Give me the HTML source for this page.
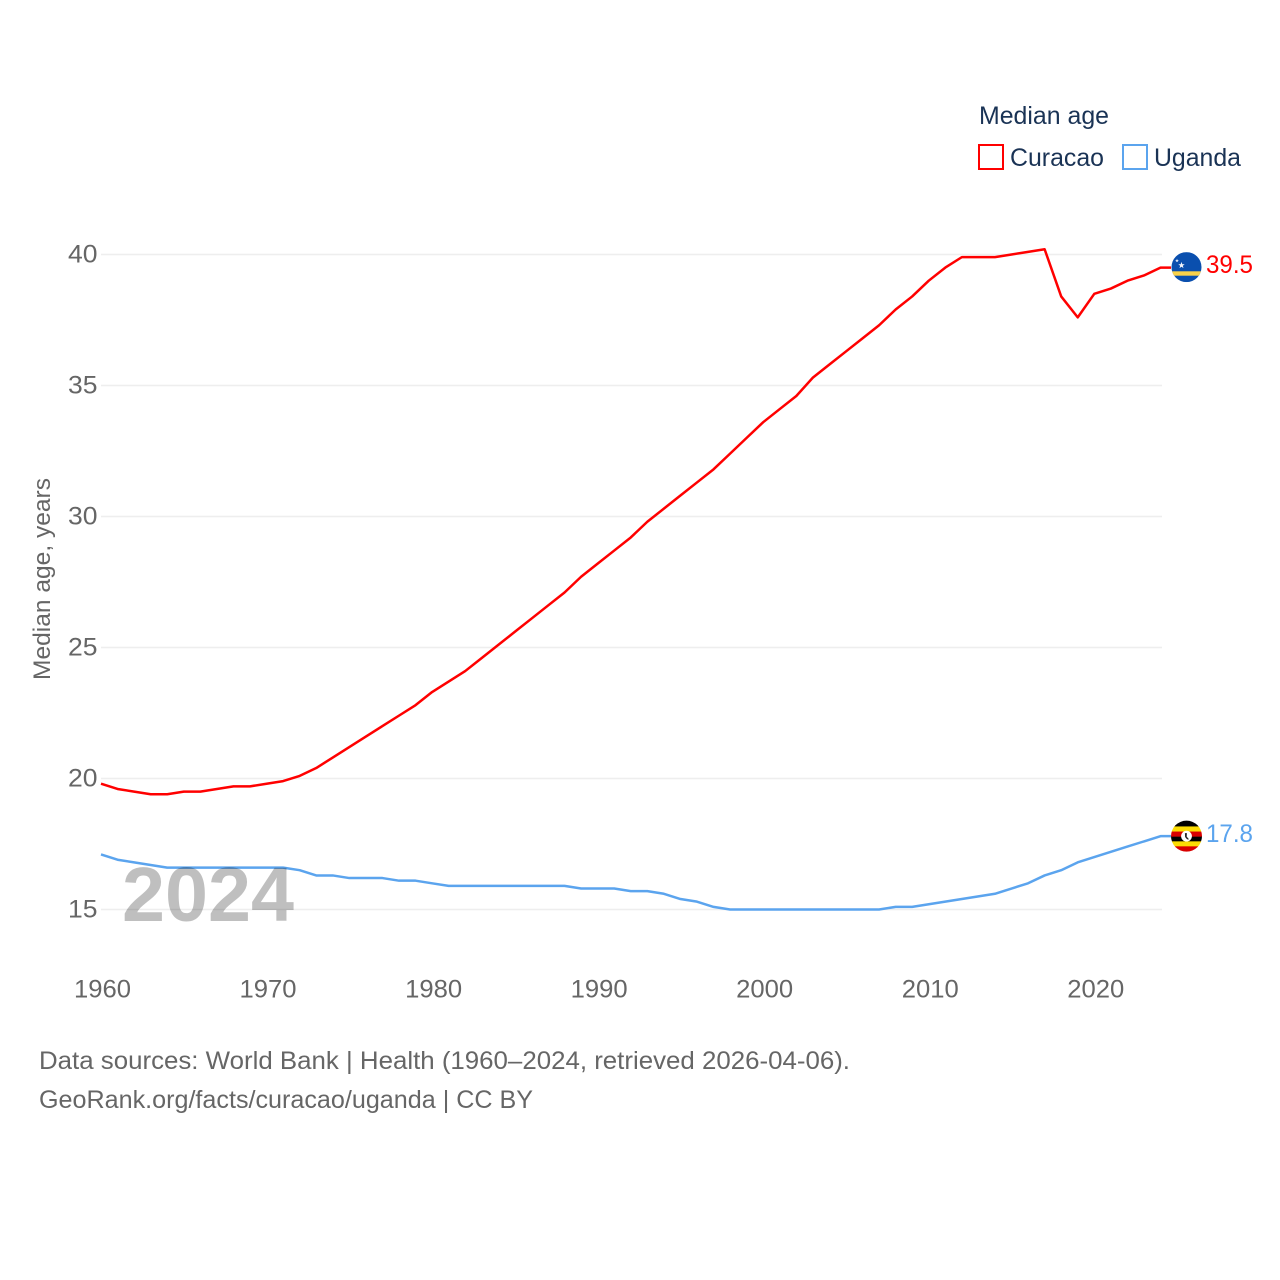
<!DOCTYPE html>
<html lang="en">
<head>
<meta charset="utf-8">
<title>Median age: Curacao and Uganda</title>
<style>
  html, body { margin: 0; padding: 0; background: #fff; }
  body { width: 1280px; height: 1280px; overflow: hidden; }
  svg { display: block; }
  text { font-family: "Liberation Sans", sans-serif; }
</style>
</head>
<body>
<svg id="chart" xmlns="http://www.w3.org/2000/svg" width="1280" height="1280" viewBox="0 0 1280 1280">
  <rect width="1280" height="1280" fill="#ffffff"/>
  <g id="grid"></g>
  <g id="y-ticks"></g>
  <g id="x-ticks"></g>
  <text transform="translate(50,579) rotate(-90)" text-anchor="middle" font-size="24" fill="#666666" textLength="202" lengthAdjust="spacingAndGlyphs">Median age, years</text>

  <g id="series"></g>
  <text x="122" y="921" font-size="77" font-weight="700" fill="#000000" fill-opacity="0.25" textLength="172" lengthAdjust="spacingAndGlyphs">2024</text>

  <g id="flag-curacao">
    <clipPath id="clip-cw"><circle cx="0" cy="0" r="15"/></clipPath>
    <g clip-path="url(#clip-cw)">
      <rect x="-15" y="-15" width="30" height="30" fill="#0a4fae"/>
      <rect x="-15" y="4.2" width="30" height="4.4" fill="#f9d24a"/>
      <polygon points="-5,-5.2 -4.2,-2.9 -1.8,-2.9 -3.7,-1.4 -3,1 -5,-0.4 -7,1 -6.3,-1.4 -8.2,-2.9 -5.8,-2.9" fill="#f4f6fb"/>
      <polygon points="-9.5,-8.4 -9,-7.1 -7.6,-7.1 -8.7,-6.2 -8.3,-4.9 -9.5,-5.7 -10.7,-4.9 -10.3,-6.2 -11.4,-7.1 -10,-7.1" fill="#dfe6f4"/>
    </g>
  </g>
  <g id="flag-uganda">
    <clipPath id="clip-ug"><circle cx="0" cy="0" r="15.5"/></clipPath>
    <g clip-path="url(#clip-ug)">
      <rect x="-16" y="-16" width="32" height="6.5" fill="#000000"/>
      <rect x="-16" y="-9.7" width="32" height="5.4" fill="#fcdc04"/>
      <rect x="-16" y="-4.6" width="32" height="5.4" fill="#d90000"/>
      <rect x="-16" y="0.5" width="32" height="5" fill="#000000"/>
      <rect x="-16" y="5.2" width="32" height="5.2" fill="#fcdc04"/>
      <rect x="-16" y="10.2" width="32" height="6" fill="#d90000"/>
      <circle cx="0" cy="0" r="5.4" fill="#ffffff"/>
      <path d="M-1.6,-3 L0.4,-3 L0.2,0.5 L2.6,3.2 L0.6,3.2 L-1.4,0.8 Z" fill="#222222"/>
    </g>
  </g>
  <g id="end-labels"></g>

  <g>
    <text x="979" y="124" font-size="25" fill="#1a3355" textLength="130" lengthAdjust="spacingAndGlyphs">Median age</text>
    <g>
      <rect x="979" y="145" width="24" height="24" fill="none" stroke="#ff0000" stroke-width="2"/>
      <text x="1010" y="166" font-size="25" fill="#1a3355" textLength="94" lengthAdjust="spacingAndGlyphs">Curacao</text>
    </g>
    <g>
      <rect x="1123" y="145" width="24" height="24" fill="none" stroke="#5ba4ee" stroke-width="2"/>
      <text x="1154" y="166" font-size="25" fill="#1a3355" textLength="87" lengthAdjust="spacingAndGlyphs">Uganda</text>
    </g>
  </g>

  <text x="39" y="1069" font-size="25" fill="#666666" textLength="811" lengthAdjust="spacingAndGlyphs">Data sources: World Bank | Health (1960–2024, retrieved 2026-04-06).</text>
  <text x="39" y="1108" font-size="25" fill="#666666" textLength="494" lengthAdjust="spacingAndGlyphs">GeoRank.org/facts/curacao/uganda | CC BY</text>
</svg>
<script>
const firstYear = 1960;
const curacaoValues = [19.8,19.6,19.5,19.4,19.4,19.5,19.5,19.6,19.7,19.7,19.8,19.9,20.1,20.4,20.8,21.2,21.6,22.0,22.4,22.8,23.3,23.7,24.1,24.6,25.1,25.6,26.1,26.6,27.1,27.7,28.2,28.7,29.2,29.8,30.3,30.8,31.3,31.8,32.4,33.0,33.6,34.1,34.6,35.3,35.8,36.3,36.8,37.3,37.9,38.4,39.0,39.5,39.9,39.9,39.9,40.0,40.1,40.2,38.4,37.6,38.5,38.7,39.0,39.2,39.5];
const ugandaValues = [17.1,16.9,16.8,16.7,16.6,16.6,16.6,16.6,16.6,16.6,16.6,16.6,16.5,16.3,16.3,16.2,16.2,16.2,16.1,16.1,16.0,15.9,15.9,15.9,15.9,15.9,15.9,15.9,15.9,15.8,15.8,15.8,15.7,15.7,15.6,15.4,15.3,15.1,15.0,15.0,15.0,15.0,15.0,15.0,15.0,15.0,15.0,15.0,15.1,15.1,15.2,15.3,15.4,15.5,15.6,15.8,16.0,16.3,16.5,16.8,17.0,17.2,17.4,17.6,17.8];
const yTickValues = [15,20,25,30,35,40];
const xTickYears = [1960,1970,1980,1990,2000,2010,2020];

const NS = 'http://www.w3.org/2000/svg';
const xScale = year => 101 + (year - 1960) * 16.555;
const yScale = value => 909.5 - (value - 15) * (909.5 - 254.5) / 25;
const make = tag => document.createElementNS(NS, tag);
const fmt = v => v.toFixed(1);

const grid = document.getElementById('grid');
const yTicks = document.getElementById('y-ticks');
yTickValues.forEach(v => {
  const line = make('line');
  
  
  line.setAttribute('x1', 101);
  line.setAttribute('x2', 1162);
  line.setAttribute('y1', yScale(v));
  line.setAttribute('y2', yScale(v));
  line.setAttribute('stroke', '#eeeeee');
  line.setAttribute('stroke-width', 1.5);
  grid.appendChild(line);

  const label = make('text');
  
  
  label.setAttribute('x', 68);
  label.setAttribute('y', yScale(v) + 8);
  label.setAttribute('font-size', 25);
  label.setAttribute('fill', '#666666');
  label.setAttribute('textLength', 29.5);
  label.setAttribute('lengthAdjust', 'spacingAndGlyphs');
  label.textContent = v;
  yTicks.appendChild(label);
});

const xTicks = document.getElementById('x-ticks');
xTickYears.forEach(year => {
  const label = make('text');
  
  
  label.setAttribute('x', xScale(year) - 27);
  label.setAttribute('y', 997.5);
  label.setAttribute('font-size', 25);
  label.setAttribute('fill', '#666666');
  label.setAttribute('textLength', 57);
  label.setAttribute('lengthAdjust', 'spacingAndGlyphs');
  label.textContent = year;
  xTicks.appendChild(label);
});

function pathFor(values) {
  const pts = values.map((v, i) => xScale(firstYear + i).toFixed(2) + ',' + yScale(v).toFixed(2));
  const last = values[values.length - 1];
  pts.push('1171,' + yScale(last).toFixed(2));
  return 'M' + pts.join(' L');
}

const seriesGroup = document.getElementById('series');

const curacaoLine = make('path');


curacaoLine.setAttribute('d', pathFor(curacaoValues));
curacaoLine.setAttribute('fill', 'none');
curacaoLine.setAttribute('stroke', '#ff0000');
curacaoLine.setAttribute('stroke-width', 2.5);
curacaoLine.setAttribute('stroke-linejoin', 'round');
seriesGroup.appendChild(curacaoLine);

const ugandaLine = make('path');


ugandaLine.setAttribute('d', pathFor(ugandaValues));
ugandaLine.setAttribute('fill', 'none');
ugandaLine.setAttribute('stroke', '#5ba4ee');
ugandaLine.setAttribute('stroke-width', 2.5);
ugandaLine.setAttribute('stroke-linejoin', 'round');
seriesGroup.appendChild(ugandaLine);

const curacaoLast = curacaoValues[curacaoValues.length - 1];
const ugandaLast = ugandaValues[ugandaValues.length - 1];
document.getElementById('flag-curacao').setAttribute('transform', 'translate(1186.5,' + (yScale(curacaoLast) - 0.5) + ')');
document.getElementById('flag-uganda').setAttribute('transform', 'translate(1186.5,' + yScale(ugandaLast) + ')');

const endLabels = document.getElementById('end-labels');

const curacaoEnd = make('text');


curacaoEnd.setAttribute('x', 1206);
curacaoEnd.setAttribute('y', yScale(curacaoLast) + 5.5);
curacaoEnd.setAttribute('font-size', 25);
curacaoEnd.setAttribute('fill', '#ff0000');
curacaoEnd.setAttribute('textLength', 47);
curacaoEnd.setAttribute('lengthAdjust', 'spacingAndGlyphs');
curacaoEnd.textContent = fmt(curacaoLast);
endLabels.appendChild(curacaoEnd);

const ugandaEnd = make('text');


ugandaEnd.setAttribute('x', 1206);
ugandaEnd.setAttribute('y', yScale(ugandaLast) + 6);
ugandaEnd.setAttribute('font-size', 25);
ugandaEnd.setAttribute('fill', '#5ba4ee');
ugandaEnd.setAttribute('textLength', 47);
ugandaEnd.setAttribute('lengthAdjust', 'spacingAndGlyphs');
ugandaEnd.textContent = fmt(ugandaLast);
endLabels.appendChild(ugandaEnd);
</script>
</body>
</html>
